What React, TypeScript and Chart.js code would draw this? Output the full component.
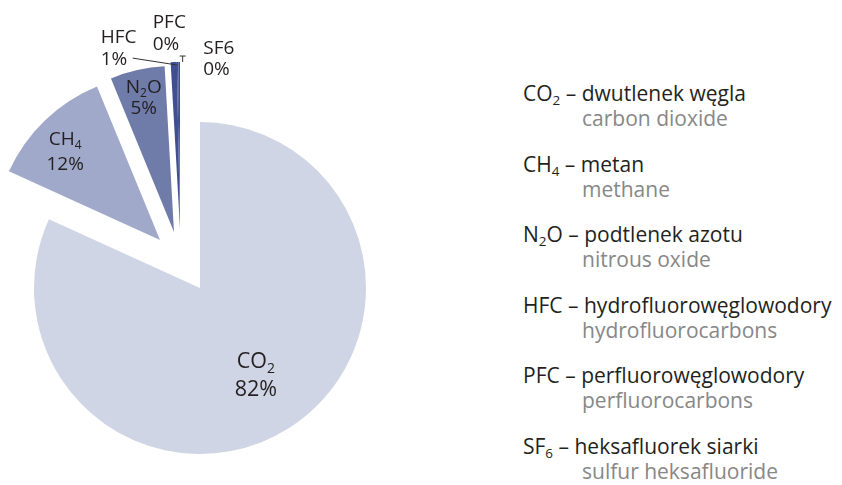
import React, { useEffect, useRef } from 'react';
import { Chart, registerables } from 'chart.js';

Chart.register(...registerables);

// ---- data ----
const gasLabels = ['CO_2', 'CH_4', 'N_2O', 'HFC', 'PFC', 'SF6'];
const shares = [81.8, 12.0, 5.3, 0.6, 0.15, 0.15];
const legendFormulas = ['CO_2', 'CH_4', 'N_2O', 'HFC', 'PFC', 'SF_6'];
const namesPl = ['dwutlenek węgla', 'metan', 'podtlenek azotu', 'hydrofluorowęglowodory', 'perfluorowęglowodory', 'heksafluorek siarki'];
const namesEn = ['carbon dioxide', 'methane', 'nitrous oxide', 'hydrofluorocarbons', 'perfluorocarbons', 'sulfur heksafluoride'];

// ---- styles ----
const FONT = '"Open Sans", "Noto Sans", sans-serif';
const COLORS = ['#cfd5e4', '#a0a9c9', '#6f7ba9', '#3f4f92', '#3f4f92', '#3f4f92'];
const SHIFT: [number, number][] = [[0, 0], [-40, -48], [-26, -56], [-20, -60], [-20, -60], [-20, -60]];
const LABEL_STYLE = [
  { inside: true, frac: 0.623, dx: 0, dy: 1, gap: 28, align: 'center', size: 21.5 },
  { inside: true, frac: 0.78, dx: -5, dy: 5, gap: 25, align: 'center', size: 19 },
  { inside: true, frac: 0.825, dx: 0, dy: 0, gap: 21, align: 'center', size: 19 },
  { inside: false, frac: 1, dx: -73, dy: -14, gap: 22, align: 'left', size: 19 },
  { inside: false, frac: 1, dx: -25, dy: -28, gap: 22, align: 'left', size: 19 },
  { inside: false, frac: 1, dx: 24, dy: -3, gap: 21, align: 'left', size: 19 },
];
const TEXT_DARK = '#231f20';
const TEXT_GRAY = '#878787';

type Part = { t: string; sub: boolean };
function parseFormula(text: string): Part[] {
  const parts: Part[] = [];
  for (let i = 0; i < text.length; i++) {
    if (text[i] === '_' && i + 1 < text.length) {
      parts.push({ t: text[i + 1], sub: true });
      i++;
    } else {
      const last = parts[parts.length - 1];
      if (last && !last.sub) last.t += text[i];
      else parts.push({ t: text[i], sub: false });
    }
  }
  return parts;
}

function drawFormula(ctx: CanvasRenderingContext2D, text: string, x: number, y: number, align: string, size: number) {
  const parts = parseFormula(text);
  const mainFont = `${size}px ${FONT}`;
  const subFont = `${Math.round(size * 0.64)}px ${FONT}`;
  let total = 0;
  const widths = parts.map((p) => {
    ctx.font = p.sub ? subFont : mainFont;
    const w = ctx.measureText(p.t).width;
    total += w;
    return w;
  });
  let cx = align === 'center' ? x - total / 2 : x;
  ctx.textAlign = 'left';
  ctx.textBaseline = 'middle';
  parts.forEach((p, i) => {
    ctx.font = p.sub ? subFont : mainFont;
    ctx.fillText(p.t, cx, p.sub ? y + size * 0.32 : y);
    cx += widths[i];
  });
}

const explodePlugin = {
  id: 'explodeSlices',
  afterDatasetsUpdate(chart: any) {
    const meta = chart.getDatasetMeta(0);
    meta.data.forEach((arc: any, i: number) => {
      arc.x += SHIFT[i][0];
      arc.y += SHIFT[i][1];
    });
  },
};

const labelPlugin = {
  id: 'sliceLabels',
  afterDatasetsDraw(chart: any) {
    const ctx: CanvasRenderingContext2D = chart.ctx;
    const meta = chart.getDatasetMeta(0);
    const data = chart.data.datasets[0].data as number[];
    const total = data.reduce((a, b) => a + b, 0);
    ctx.save();
    ctx.fillStyle = TEXT_DARK;
    ctx.strokeStyle = '#333333';
    meta.data.forEach((arc: any, i: number) => {
      const st = LABEL_STYLE[i];
      const mid = (arc.startAngle + arc.endAngle) / 2;
      const r = arc.outerRadius * st.frac;
      const ax = arc.x + Math.cos(mid) * r;
      const ay = arc.y + Math.sin(mid) * r;
      const lx = ax + st.dx;
      const ly = ay + st.dy;
      const pct = Math.round((data[i] / total) * 100) + '%';
      drawFormula(ctx, gasLabels[i], lx, ly - st.gap / 2, st.align, st.size);
      drawFormula(ctx, pct, lx, ly + st.gap / 2, st.align, st.size);
      if (i === 3) {
        ctx.lineWidth = 1;
        ctx.beginPath();
        ctx.moveTo(ax - 41, ay - 4);
        ctx.lineTo(ax + 4, ay + 3);
        ctx.stroke();
      }
      if (i === 4) {
        ctx.lineWidth = 1;
        ctx.beginPath();
        ctx.moveTo(ax + 2, ay - 6);
        ctx.lineTo(ax + 8, ay - 6);
        ctx.moveTo(ax + 5, ay - 6);
        ctx.lineTo(ax + 5, ay);
        ctx.stroke();
      }
    });
    ctx.restore();
  },
};

function Formula({ text }: { text: string }) {
  return (
    <>
      {parseFormula(text).map((p, i) =>
        p.sub ? (
          <span key={i} style={{ fontSize: '0.64em', lineHeight: 0, position: 'relative', top: '0.3em' }}>{p.t}</span>
        ) : (
          <span key={i}>{p.t}</span>
        )
      )}
    </>
  );
}

export default function App() {
  const canvasRef = useRef<HTMLCanvasElement | null>(null);

  useEffect(() => {
    if (!canvasRef.current) return;
    const chart = new Chart(canvasRef.current, {
      type: 'pie',
      data: {
        labels: gasLabels,
        datasets: [
          {
            data: shares,
            backgroundColor: COLORS,
            borderWidth: 0,
            radius: 166,
            clip: false,
          } as any,
        ],
      },
      options: {
        animation: false,
        responsive: false,
        events: [],
        radius: 166,
        layout: { padding: { top: 91, left: 0, right: 0, bottom: 0 } },
        plugins: {
          legend: { display: false },
          tooltip: { enabled: false },
          title: { display: false },
        },
      } as any,
      plugins: [explodePlugin, labelPlugin],
    });
    return () => chart.destroy();
  }, []);

  return (
    <div style={{ position: 'fixed', left: 0, top: 0, width: 842, height: 485, background: '#ffffff', overflow: 'hidden' }}>
      <canvas ref={canvasRef} width={400} height={485} style={{ position: 'absolute', left: 0, top: 0 }} />
      <div
        style={{
          position: 'absolute',
          left: 523,
          top: 81,
          fontFamily: FONT,
          fontSize: 21,
          lineHeight: '25px',
          display: 'flex',
          flexDirection: 'column',
          gap: 20.6,
        }}
      >
        {legendFormulas.map((f, i) => (
          <div key={i} style={{ height: 50 }}>
            <div style={{ color: TEXT_DARK, whiteSpace: 'nowrap', height: 25 }}>
              <Formula text={f} /> – {namesPl[i]}
            </div>
            <div style={{ color: TEXT_GRAY, marginLeft: 59, whiteSpace: 'nowrap', height: 25 }}>{namesEn[i]}</div>
          </div>
        ))}
      </div>
    </div>
  );
}
